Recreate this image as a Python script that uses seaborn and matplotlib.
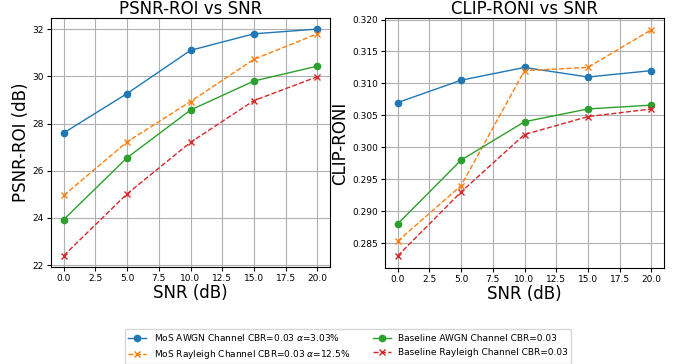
import matplotlib
matplotlib.use("Agg")
import matplotlib.pyplot as plt
import seaborn as sns
import pandas as pd

snr = [0, 5, 10, 15, 20]
labels = [
    r"MoS AWGN Channel CBR=0.03 $\alpha$=3.03%",
    r"MoS Rayleigh Channel CBR=0.03 $\alpha$=12.5%",
    "Baseline AWGN Channel CBR=0.03",
    "Baseline Rayleigh Channel CBR=0.03",
]
psnr_mos_awgn = [27.6, 29.27, 31.1, 31.8, 32.0]
psnr_mos_ray = [24.95, 27.22, 28.93, 30.72, 31.8]
psnr_base_awgn = [23.93, 26.55, 28.57, 29.8, 30.43]
psnr_base_ray = [22.4, 25.02, 27.2, 28.97, 29.98]

clip_mos_awgn = [0.307, 0.3105, 0.3125, 0.311, 0.312]
clip_mos_ray = [0.2853, 0.294, 0.312, 0.3125, 0.3184]
clip_base_awgn = [0.288, 0.298, 0.304, 0.306, 0.3066]
clip_base_ray = [0.283, 0.293, 0.302, 0.3048, 0.306]

colors = ["#1f77b4", "#ff7f0e", "#2ca02c", "#d62728"]
markers = ["o", "x", "o", "x"]
styles = ["-", "--", "-", "--"]

fig = plt.figure(figsize=(6.78, 3.64), dpi=100)
ax1 = fig.add_axes([51/678, 1-267/364, (330-51)/678, (267-18)/364])
ax2 = fig.add_axes([385/678, 1-268/364, (664-385)/678, (268-18)/364])

def draw(ax, series, title, ylabel):
    for i, ys in enumerate(series):
        df = pd.DataFrame({"SNR": snr, "val": ys})
        sns.lineplot(data=df, x="SNR", y="val", ax=ax, color=colors[i],
                     marker=markers[i], linestyle=styles[i], linewidth=1,
                     markersize=4.5, markeredgewidth=1,
                     markeredgecolor=colors[i], markerfacecolor=colors[i],
                     label=labels[i], legend=False)
    ax.set_title(title, fontsize=12, pad=3)
    ax.set_xlabel("SNR (dB)", fontsize=12, labelpad=1)
    ax.set_ylabel(ylabel, fontsize=12, labelpad=2)
    ax.grid(True, color="#b0b0b0", linewidth=0.8)
    ax.set_axisbelow(True)
    ax.tick_params(labelsize=6.5, length=3, pad=2)
    ax.set_xticks([0, 2.5, 5, 7.5, 10, 12.5, 15, 17.5, 20])
    for s in ax.spines.values():
        s.set_color("black")
        s.set_linewidth(0.8)

draw(ax1, [psnr_mos_awgn, psnr_mos_ray, psnr_base_awgn, psnr_base_ray],
     "PSNR-ROI vs SNR", "PSNR-ROI (dB)")
ax1.set_yticks([22, 24, 26, 28, 30, 32])
ax1.set_ylim(21.92, 32.47)

draw(ax2, [clip_mos_awgn, clip_mos_ray, clip_base_awgn, clip_base_ray],
     "CLIP-RONI vs SNR", "CLIP-RONI")
ax2.set_yticks([0.285, 0.290, 0.295, 0.300, 0.305, 0.310, 0.315, 0.320])
ax2.set_ylim(0.2811, 0.32024)
ax2.yaxis.set_major_formatter(matplotlib.ticker.FormatStrFormatter("%.3f"))

handles, labs = ax1.get_legend_handles_labels()
fig.legend(handles, labs, loc="center", bbox_to_anchor=(348/678, 1-346.5/364),
           ncol=2, fontsize=6.5, frameon=True, edgecolor="#cccccc",
           handlelength=2, columnspacing=2.5)

fig.savefig("out.png", dpi=100)
